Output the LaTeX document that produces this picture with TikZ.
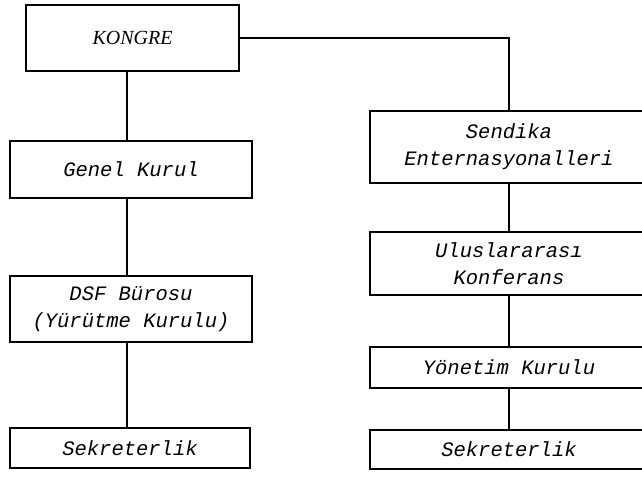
\documentclass[tikz,border=0pt]{standalone}
\usepackage{fontspec}
\setmonofont{Liberation Mono}
\newfontfamily\kfont{Liberation Serif}
\begin{document}
\begin{tikzpicture}[x=1pt,y=-1pt,
  box/.style={draw, rectangle, line width=2.4pt, inner sep=0pt, align=center,
    font=\ttfamily\itshape\fontsize{20.5}{27}\selectfont},
  link/.style={line width=1.6pt}]
\useasboundingbox (0,0) rectangle (642,480);
\clip (0,0) rectangle (642,480);
\coordinate (lx) at (127,0);
\node[box, minimum width=213, minimum height=66, font=\kfont\itshape\fontsize{20}{24}\selectfont] (kongre) at (132.5,38) {KONGRE};
\node[box, minimum width=242, minimum height=57] (genel) at (131,169.5) {Genel Kurul};
\node[box, minimum width=242, minimum height=66] (dsf) at (131,309) {DSF Bürosu\\(Yürütme Kurulu)};
\node[box, minimum width=240, minimum height=40] (sekl) at (130,448) {Sekreterlik};
\node[box, minimum width=278, minimum height=72] (sendika) at (509,147) {Sendika\\Enternasyonalleri};
\node[box, minimum width=278, minimum height=63] (ulus) at (509,263.5) {Uluslararası\\Konferans};
\node[box, minimum width=278, minimum height=41] (yonetim) at (509,367.5) {Yönetim Kurulu};
\node[box, minimum width=278, minimum height=39] (sekr) at (509,449.5) {Sekreterlik};
\draw[link] (kongre.south -| lx) -- (genel.north -| lx);
\draw[link] (genel.south -| lx) -- (dsf.north -| lx);
\draw[link] (dsf.south -| lx) -- (sekl.north -| lx);
\draw[link] (kongre.east) -| (sendika.north);
\draw[link] (sendika) -- (ulus);
\draw[link] (ulus) -- (yonetim);
\draw[link] (yonetim) -- (sekr);
\end{tikzpicture}
\end{document}
